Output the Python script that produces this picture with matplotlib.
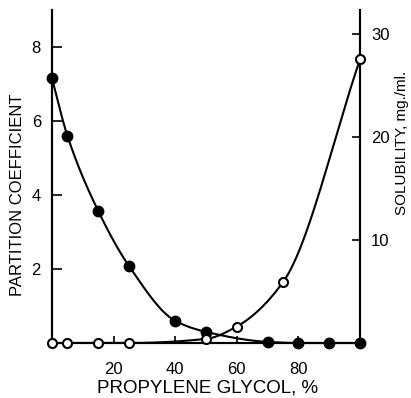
import numpy as np
import matplotlib
matplotlib.use("Agg")
import matplotlib.pyplot as plt

# Data
glycol_pc = [0, 5, 15, 25, 40, 50, 70, 80, 90, 100]
partition = [7.15, 5.6, 3.57, 2.08, 0.6, 0.3, 0.03, 0.0, 0.0, 0.0]
glycol_sol = [0, 5, 15, 25, 50, 60, 75, 100]
solubility = [0.0, 0.0, 0.0, 0.0, 0.4, 1.6, 5.9, 27.5]

x_ticks = [20, 40, 60, 80]
left_ticks = [2, 4, 6, 8]
right_ticks = [10, 20, 30]


def pchip(x, y, xn):
    x = np.asarray(x, float); y = np.asarray(y, float)
    h = np.diff(x); d = np.diff(y) / h
    n = len(x); m = np.zeros(n)
    for k in range(1, n - 1):
        if d[k - 1] * d[k] > 0:
            w1 = 2 * h[k] + h[k - 1]; w2 = h[k] + 2 * h[k - 1]
            m[k] = (w1 + w2) / (w1 / d[k - 1] + w2 / d[k])
    m[0] = d[0]; m[-1] = d[-1]
    idx = np.clip(np.searchsorted(x, xn) - 1, 0, n - 2)
    t = (xn - x[idx]) / h[idx]
    h00 = 2*t**3 - 3*t**2 + 1; h10 = t**3 - 2*t**2 + t
    h01 = -2*t**3 + 3*t**2; h11 = t**3 - t**2
    return h00*y[idx] + h10*h[idx]*m[idx] + h01*y[idx+1] + h11*h[idx]*m[idx+1]


W, H = 411, 398
fig = plt.figure(figsize=(W/100, H/100), dpi=100)
ax = fig.add_axes([52/W, 1 - 343/H, (360-52)/W, (343-10)/H])
ax2 = ax.twinx()

label_family = ["Liberation Sans", "DejaVu Sans"]
tick_font = ["Liberation Sans Narrow", "Liberation Sans", "DejaVu Sans"]

xs = np.linspace(0, 100, 400)
ax.plot(xs, pchip(glycol_pc, partition, xs), color="black", lw=1.5, clip_on=False)
ax.plot(glycol_pc, partition, "o", color="black", ms=7.5, clip_on=False, zorder=5)
ax2.plot(xs, pchip(glycol_sol, solubility, xs), color="black", lw=1.5, clip_on=False)
ax2.plot(glycol_sol, solubility, "o", mfc="white", mec="black", mew=1.5, ms=6.5,
         clip_on=False, zorder=5)

ax.set_xlim(0, 100)
ax.set_ylim(0, 9)
ax2.set_ylim(0, 32.3)
for a in (ax, ax2):
    a.spines["top"].set_visible(False)
    for s in a.spines.values():
        s.set_linewidth(1.5)
    a.patch.set_visible(False)

ax.set_xticks(x_ticks)
ax.set_xticklabels([str(v) for v in x_ticks], family=tick_font, size=12)
ax.set_yticks(left_ticks)
ax.set_yticklabels([str(v) for v in left_ticks], family=tick_font, size=12)
ax2.set_yticks(right_ticks)
ax2.set_yticklabels([str(v) for v in right_ticks], family=tick_font, size=12)
ax.tick_params(axis="x", direction="in", length=5, width=1.2, pad=14)
ax.tick_params(axis="y", direction="in", length=7, width=1.2, pad=8)
ax2.tick_params(axis="y", direction="in", length=6, width=1.2, pad=8)

ax.text((208-52)/308, (343-388)/333, "PROPYLENE GLYCOL, %", transform=ax.transAxes,
        ha="center", va="center", family=label_family, size=13.5)
ax.text((18-52)/308, (343-195)/333, "PARTITION COEFFICIENT", transform=ax.transAxes,
        ha="center", va="center", rotation=90, family=label_family, size=12)
ax.text((402-52)/308, (343-143)/333, "SOLUBILITY, mg./ml.", transform=ax.transAxes,
        ha="center", va="center", rotation=90, family=label_family, size=11)

fig.savefig("out.png", dpi=100)
